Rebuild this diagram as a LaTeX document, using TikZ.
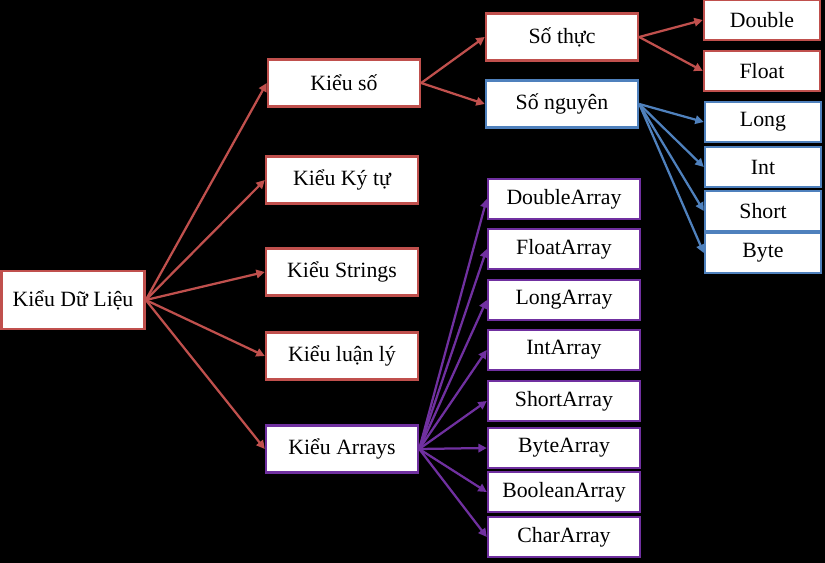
\documentclass[tikz,border=0pt]{standalone}
\usepackage{fontspec}
\setmainfont{Liberation Serif}
\usetikzlibrary{arrows.meta}
\definecolor{redline}{HTML}{C0504D}
\definecolor{blueline}{HTML}{4F81BD}
\definecolor{purpleline}{HTML}{7030A0}
\begin{document}
\begin{tikzpicture}[x=0.025cm,y=-0.025cm,
  box/.style={draw,fill=white,line width=1.7pt,inner sep=0pt,font=\fontsize{15.5}{17}\selectfont},
  big/.style={box,minimum width=3.8cm,minimum height=1.18cm},
  small/.style={box,minimum width=2.9cm,minimum height=1cm},
  arr/.style={box,minimum width=3.8cm,minimum height=1cm,draw=purpleline},
  link/.style={line width=1.6pt,-{Triangle[length=6pt,width=6pt]}}]
  \fill[black] (0,0) rectangle (825,563);
  \useasboundingbox (0,0) rectangle (825,563);
  % root and first level
  \node[box,draw=redline,minimum width=3.58cm,minimum height=1.45cm] (kdl) at (73,300) {Kiểu Dữ Liệu};
  \node[big,draw=redline] (kso) at (344,83) {Kiểu số};
  \node[big,draw=redline] (kkt) at (342,180) {Kiểu Ký tự};
  \node[big,draw=redline] (kstr) at (342,272) {Kiểu Strings};
  \node[big,draw=redline] (kll) at (342,356) {Kiểu luận lý};
  \node[big,draw=purpleline] (karr) at (342,449) {Kiểu Arrays};
  % numbers
  \node[big,draw=redline] (sthuc) at (562,37) {Số thực};
  \node[big,draw=blueline] (snguyen) at (562,104) {Số nguyên};
  \node[small,draw=redline] (dbl) at (762,20) {Double};
  \node[small,draw=redline] (flt) at (762,71) {Float};
  \node[small,draw=blueline] (lng) at (763,122) {Long};
  \node[small,draw=blueline] (int) at (763,167) {Int};
  \node[small,draw=blueline] (sht) at (763,211) {Short};
  \node[small,draw=blueline] (byt) at (763,253) {Byte};
  % arrays
  \node[arr] (darr) at (564,199) {DoubleArray};
  \node[arr] (farr) at (564,249) {FloatArray};
  \node[arr] (larr) at (564,300) {LongArray};
  \node[arr] (iarr) at (564,350) {IntArray};
  \node[arr] (sarr) at (564,401) {ShortArray};
  \node[arr] (barr) at (564,448) {ByteArray};
  \node[arr] (boarr) at (564,492) {BooleanArray};
  \node[arr] (carr) at (564,537) {CharArray};
  % connectors
  \foreach \c in {kso,kkt,kstr,kll,karr}
    \draw[link,redline] (kdl.east) -- (\c.west);
  \foreach \c in {sthuc,snguyen}
    \draw[link,redline] (kso.east) -- (\c.west);
  \foreach \c in {dbl,flt}
    \draw[link,redline] (sthuc.east) -- (\c.west);
  \foreach \c in {lng,int,sht,byt}
    \draw[link,blueline] (snguyen.east) -- (\c.west);
  \foreach \c in {darr,farr,larr,iarr,sarr,barr,boarr,carr}
    \draw[link,purpleline] (karr.east) -- (\c.west);
\end{tikzpicture}
\end{document}
